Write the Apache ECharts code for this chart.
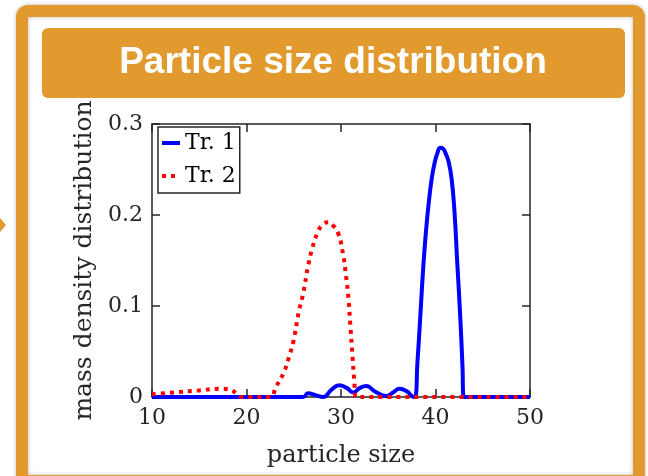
<!DOCTYPE html>
<html>
<head>
<meta charset="utf-8">
<script src="https://cdn.jsdelivr.net/npm/echarts@6/dist/echarts.min.js"></script>
<style>
  html, body { margin: 0; padding: 0; background: #ffffff; }
  #chart { width: 648px; height: 476px; }
</style>
</head>
<body>
<div id="chart"></div>
<script>
// Particle size (x) and mass density (y) for the two trials
const sizeTr1 = [10, 26, 26.5, 27.3, 28.1, 29.0, 29.8, 30.6, 31.3, 32.0, 32.7, 33.6, 34.8, 35.5, 36.2, 37.0, 37.5, 37.8,
                 38.1, 38.4, 38.7, 39.0, 39.3, 39.6, 39.9, 40.2, 40.5, 40.8, 41.1, 41.4, 41.7, 42.0, 42.3, 42.6, 42.85, 43.0, 50];
const massTr1 = [0, 0, 0.004, 0.002, 0.000, 0.008, 0.013, 0.010, 0.005, 0.010, 0.012, 0.006, 0.001, 0.005, 0.009, 0.006, 0.001, 0.000,
                 0.040, 0.090, 0.142, 0.183, 0.215, 0.240, 0.257, 0.268, 0.274, 0.273, 0.267, 0.258, 0.240, 0.205, 0.148, 0.092, 0.035, 0.000, 0];

const sizeTr2 = [10, 12.3, 14.8, 17.2, 18.3, 19.0, 19.5, 22.5, 23.1, 23.9, 24.5, 25.0, 25.5, 26.0, 26.5, 27.0, 27.5, 28.1,
                 28.7, 29.2, 29.7, 30.2, 30.5, 30.8, 31.0, 31.2, 31.4, 31.6, 50];
const massTr2 = [0.003, 0.005, 0.007, 0.009, 0.008, 0.003, 0.000, 0.000, 0.011, 0.026, 0.044, 0.063, 0.092, 0.114, 0.143, 0.165, 0.180, 0.190,
                 0.192, 0.188, 0.180, 0.158, 0.136, 0.107, 0.077, 0.048, 0.019, 0.000, 0];

const seriesNames = ['Tr. 1', 'Tr. 2'];
const xTicks = [10, 20, 30, 40, 50];
const yTicks = [0, 0.1, 0.2, 0.3];
const titleText = 'Particle size distribution';
const xName = 'particle size';
const yName = 'mass density distribution';

const pairs = (xs, ys) => xs.map((x, i) => [x, ys[i]]);

const ink = '#262626';
const serif = '"DejaVu Serif", serif';
const orange = '#E29A2E';

const chart = echarts.init(document.getElementById('chart'), null, { renderer: 'canvas' });

const baseX = {
  type: 'value',
  min: xTicks[0],
  max: xTicks[xTicks.length - 1],
  interval: xTicks[1] - xTicks[0],
  splitLine: { show: false },
  axisLine: { show: true, onZero: false, lineStyle: { color: ink, width: 1.5 } },
  axisTick: { show: true, inside: true, length: 8, lineStyle: { color: ink, width: 1.5 } }
};
const baseY = {
  type: 'value',
  min: yTicks[0],
  max: yTicks[yTicks.length - 1],
  interval: yTicks[1] - yTicks[0],
  splitLine: { show: false },
  axisLine: { show: true, onZero: false, lineStyle: { color: ink, width: 1.5 } },
  axisTick: { show: true, inside: true, length: 8, lineStyle: { color: ink, width: 1.5 } }
};

chart.setOption({
  animation: false,
  backgroundColor: '#ffffff',
  grid: { left: 152, right: 118, top: 124, bottom: 79 },
  graphic: [
    // outer frame
    {
      type: 'rect', z: 100,
      shape: { x: 22, y: 11, width: 617, height: 470, r: 6 },
      style: { fill: 'none', stroke: orange, lineWidth: 12, shadowColor: 'rgba(0,0,0,0.25)', shadowBlur: 4 }
    },
    // arrow tip at the left edge
    {
      type: 'polygon', z: 100,
      shape: { points: [[0, 218], [6, 225], [0, 232]] },
      style: { fill: orange }
    },
    // title banner
    {
      type: 'rect', z: 100,
      shape: { x: 42, y: 28, width: 583, height: 70, r: 6 },
      style: { fill: orange }
    },
    {
      type: 'text', z: 101,
      style: {
        text: titleText, x: 333, y: 63, align: 'center', verticalAlign: 'middle',
        fill: '#ffffff', font: 'bold 37px "Liberation Sans", Arial, sans-serif'
      }
    }
  ],
  legend: {
    data: seriesNames,
    orient: 'vertical',
    left: 158,
    top: 127,
    backgroundColor: '#ffffff',
    borderColor: ink,
    borderWidth: 1.5,
    borderRadius: 0,
    padding: [5, 4, 6, 2],
    itemWidth: 18,
    itemHeight: 14,
    itemGap: 11,
    itemStyle: { opacity: 0 },
    lineStyle: { width: 4 },
    textStyle: { fontFamily: serif, fontSize: 22, color: '#000', lineHeight: 22 }
  },
  xAxis: [
    Object.assign({}, baseX, {
      position: 'bottom',
      name: xName,
      nameLocation: 'middle',
      nameGap: 47,
      nameTextStyle: { fontFamily: serif, fontSize: 24, color: ink },
      axisLabel: { fontFamily: serif, fontSize: 22, color: ink, margin: 10 }
    }),
    Object.assign({}, baseX, { position: 'top', axisLabel: { show: false } })
  ],
  yAxis: [
    Object.assign({}, baseY, {
      position: 'left',
      name: yName,
      nameLocation: 'middle',
      nameGap: 50,
      nameTextStyle: { fontFamily: serif, fontSize: 25, color: ink },
      axisLabel: {
        fontFamily: serif, fontSize: 22, color: ink, margin: 9,
        formatter: v => (v === 0 ? '0' : v.toFixed(1))
      }
    }),
    Object.assign({}, baseY, { position: 'right', axisLabel: { show: false } })
  ],
  series: [
    {
      name: seriesNames[0],
      type: 'line',
      data: pairs(sizeTr1, massTr1),
      smooth: 0.5,
      symbol: 'none',
      clip: false,
      color: '#0000FF',
      lineStyle: { color: '#0000FF', width: 4 },
      z: 3
    },
    {
      name: seriesNames[1],
      type: 'line',
      data: pairs(sizeTr2, massTr2),
      smooth: 0.5,
      symbol: 'none',
      clip: false,
      color: '#FF0000',
      lineStyle: { color: '#FF0000', width: 4, type: [4, 5], cap: 'butt' },
      z: 4
    }
  ]
});
</script>
</body>
</html>
